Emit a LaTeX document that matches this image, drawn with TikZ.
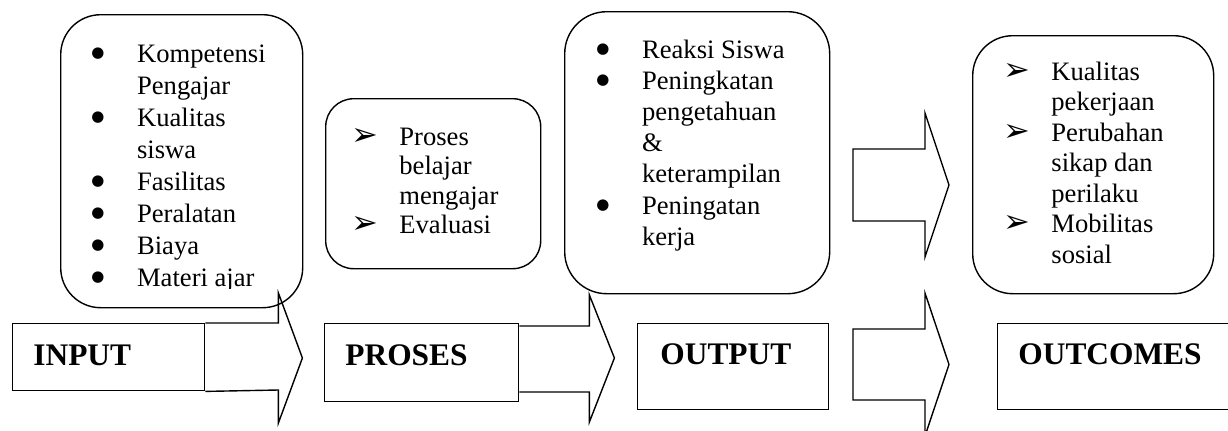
\documentclass[tikz,border=0pt]{standalone}
\usepackage{fontspec}
\setmainfont{Liberation Serif}
\newfontfamily\dingfont{DejaVu Sans}
\usepackage{array}
\usetikzlibrary{positioning,calc}

\newcolumntype{B}{@{}p{22.85pt}@{}}
\newcolumntype{A}{@{}p{24pt}@{}}
\newcommand{\dotitem}{\raisebox{2.3pt}{\dingfont\fontsize{7.5}{7.5}\selectfont ●}}
\newcommand{\arrowitem}{{\dingfont\fontsize{16}{16}\selectfont ➢}}

\begin{document}
\begin{tikzpicture}[x=0.5pt,y=-0.5pt,
  listbox/.style={draw,line width=0.7pt,inner sep=0pt,anchor=north west,rounded corners=20pt},
  listtext/.style={anchor=base west,inner sep=0pt,font=\fontsize{13.3}{15.6}\selectfont},
  stagebox/.style={draw,line width=0.7pt,inner sep=0pt,anchor=north west},
  stagelbl/.style={anchor=base west,inner sep=0pt,font=\fontsize{15.7}{18}\selectfont\bfseries},
  blockarr/.style={draw,line width=0.7pt,line join=miter}
]
\clip (0,0) rectangle (1228,430);
\node[listbox,minimum width=121pt,minimum height=146.5pt] (inlist) at (60,14) {};
\node[listbox,minimum width=107.5pt,minimum height=85pt,rounded corners=14pt] (proslist) at (325,98) {};
\node[listbox,minimum width=132.5pt,minimum height=141pt,rounded corners=21pt] (outlist) at (564,11) {};
\node[listbox,minimum width=120.5pt,minimum height=129pt] (outclist) at (972,35) {};
\begin{scope}
  \clip (0,0) rectangle (1228,288);
  \node[listtext,font=\fontsize{13.3}{16}\selectfont] (intext) at (91,62) {%
    \begin{tabular}[t]{Bl@{}}
    \dotitem & Kompetensi\\
             & Pengajar\\
    \dotitem & Kualitas\\
             & siswa\\
    \dotitem & Fasilitas\\
    \dotitem & Peralatan\\
    \dotitem & Biaya\\
    \dotitem & Materi ajar
    \end{tabular}};
\end{scope}
\node[listtext,font=\fontsize{13.3}{14.8}\selectfont] (prostext) at (351,145) {%
  \begin{tabular}[t]{Al@{}}
  \arrowitem & Proses\\
             & belajar\\
             & mengajar\\
  \arrowitem & Evaluasi
  \end{tabular}};
\node[listtext] (outtext) at (596,58) {%
  \begin{tabular}[t]{Bl@{}}
  \dotitem & Reaksi Siswa\\
  \dotitem & Peningkatan\\
           & pengetahuan\\
           & \&\\
           & keterampilan\\
  \dotitem & Peningatan\\
           & kerja
  \end{tabular}};
\node[listtext,font=\fontsize{13.3}{15.25}\selectfont] (outctext) at (1003,80) {%
  \begin{tabular}[t]{Al@{}}
  \arrowitem & Kualitas\\
             & pekerjaan\\
  \arrowitem & Perubahan\\
             & sikap dan\\
             & perilaku\\
  \arrowitem & Mobilitas\\
             & sosial
  \end{tabular}};
\node[stagebox,minimum width=96pt,minimum height=33.5pt] (input) at (12,323) {};
\node[stagebox,minimum width=97pt,minimum height=39pt] (proses) at (324,323) {};
\node[stagebox,minimum width=95.5pt,minimum height=43pt] (output) at (637,323) {};
\node[stagebox,minimum width=125pt,minimum height=43pt] (outcomes) at (997,323) {};
\node[stagelbl] (inputlbl) at (33,365) {INPUT};
\node[stagelbl] (proseslbl) at (345,365) {PROSES};
\node[stagelbl] (outputlbl) at (660,364) {OUTPUT};
\node[stagelbl] (outcomeslbl) at (1018,364) {OUTCOMES};
\draw[blockarr] (input.north east) -- ++(73,0) -- ++(0,-30) -- ++(24,65) -- ++(-24,65) -- ++(0,-33) -- (input.south east);
\draw[blockarr] ([yshift=-1.5pt]proses.north east) -- ++(70,0) -- ++(0,-31) -- ++(25,63) -- ++(-25,64) -- ++(0,-30) -- ++(-70,0);
\coordinate (a3) at (853,149);
\coordinate (a4) at (853,329);
\draw[blockarr] (a3) -- ++(72,0) -- ++(0,-36) -- ++(24,72) -- ++(-24,72) -- ++(0,-36) -- ++(-72,0) -- cycle;
\draw[blockarr] (a4) -- ++(72,0) -- ++(0,-36) -- ++(24,71.5) -- ++(-24,71.5) -- ++(0,-36) -- ++(-72,0) -- cycle;
\end{tikzpicture}
\end{document}
